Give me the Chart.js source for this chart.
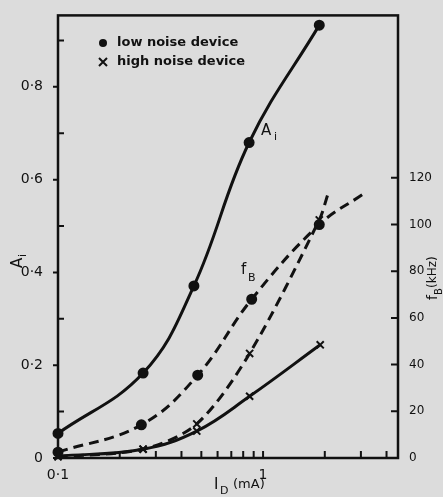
<!DOCTYPE html>
<html>
<head>
<meta charset="utf-8">
<script src="https://cdn.jsdelivr.net/npm/chart.js@4"></script>
<style>
  body { margin: 0; background: #dcdcdc; }
  canvas { display: block; }
</style>
</head>
<body>
<canvas id="noiseChart" width="443" height="497"></canvas>
<script>
// values
var lowX  = [0.1, 0.26, 0.46, 0.855, 1.88];
var lowA  = [0.053, 0.183, 0.371, 0.68, 0.933];
var lowFX = [0.1, 0.255, 0.48, 0.88, 1.88, 3.07];
var lowF  = [2.5, 14.2, 35.5, 68, 100, 113];
var highX  = [0.1, 0.26, 0.475, 0.86, 1.9];
var highA  = [0.004, 0.019, 0.058, 0.133, 0.244];
var highFX = [0.1, 0.26, 0.475, 0.86, 1.88, 2.07];
var highF  = [0.5, 3.8, 14.6, 44.8, 102, 113];

var aTicks = [0, 0.2, 0.4, 0.6, 0.8];
var aMinorTicks = [0.1, 0.3, 0.5, 0.7, 0.9];
var fTicks = [0, 20, 40, 60, 80, 100, 120];
var xLabelTicks = [0.1, 1];
var xMinorTicks = [0.2, 0.3, 0.4, 0.5, 0.6, 0.7, 0.8, 0.9, 1, 2, 3, 4];

function pts(xs, ys){
    var out = [];
    for(var i = 0; i < xs.length; i++){
        out.push({x: xs[i], y: ys[i]});
    }
    return out;
}
function fmt(v){
    if(v === 0) return '0';
    return String(v).replace('.', '\u00b7');
}

var ink = '#111';
var font = '"DejaVu Sans", sans-serif';

const paperPlugin = {
    id: 'paper',
    beforeDraw: function(chart){
        var c = chart.ctx;
        c.save();
        c.fillStyle = '#dcdcdc';
        c.fillRect(0, 0, chart.width, chart.height);
        c.restore();
    },
    afterDraw: function(chart){
        var c = chart.ctx;
        var a = chart.chartArea;
        var sx = chart.scales.x, sa = chart.scales.yA, sf = chart.scales.yF;
        c.save();
        c.strokeStyle = ink;
        c.fillStyle = ink;
        c.lineWidth = 2.5;
        c.strokeRect(a.left, a.top, a.right - a.left, a.bottom - a.top);
        c.lineWidth = 2;
        c.beginPath();
        aTicks.forEach(function(v){
            var y = sa.getPixelForValue(v);
            c.moveTo(a.left - 5, y); c.lineTo(a.left, y);
        });
        aMinorTicks.forEach(function(v){
            var y = sa.getPixelForValue(v);
            c.moveTo(a.left, y); c.lineTo(a.left + 6, y);
        });
        fTicks.forEach(function(v){
            if(v === 0) return;
            var y = sf.getPixelForValue(v);
            c.moveTo(a.right - 7, y); c.lineTo(a.right, y);
        });
        xMinorTicks.forEach(function(v){
            var x = sx.getPixelForValue(v);
            c.moveTo(x, a.bottom); c.lineTo(x, a.bottom - 7);
        });
        c.stroke();

        // legend
        c.beginPath();
        c.arc(103, 43, 4, 0, Math.PI * 2);
        c.fill();
        c.beginPath();
        c.moveTo(99, 58); c.lineTo(107, 66);
        c.moveTo(107, 58); c.lineTo(99, 66);
        c.stroke();
        c.font = 'bold 13px ' + font;
        c.textBaseline = 'middle';
        c.fillText('low noise device', 117, 43);
        c.fillText('high noise device', 117, 62);

        // curve labels
        c.font = '15px ' + font;
        c.fillText('A', 261, 131);
        c.font = '11px ' + font;
        c.fillText('i', 274, 137);
        c.font = '15px ' + font;
        c.fillText('f', 241, 270);
        c.font = '11px ' + font;
        c.fillText('B', 248, 278);

        // axis titles
        c.font = '15px ' + font;
        c.fillText('I', 214, 485);
        c.font = '11px ' + font;
        c.fillText('D', 220, 491);
        c.font = '13px ' + font;
        c.fillText('(mA)', 233, 485);

        c.save();
        c.translate(18, 262);
        c.rotate(-Math.PI / 2);
        c.font = '15px ' + font;
        c.fillText('A', -6, 0);
        c.font = '11px ' + font;
        c.fillText('i', 5, 5);
        c.restore();

        c.save();
        c.translate(433, 300);
        c.rotate(-Math.PI / 2);
        c.font = '14px ' + font;
        c.fillText('f', 0, 0);
        c.font = '10px ' + font;
        c.fillText('B', 5, 6);
        c.font = '12px ' + font;
        c.fillText('(kHz)', 12, 0);
        c.restore();

        c.restore();
    }
};

const config = {
    type: 'line',
    data: {
        datasets: [
            {
                label: 'A_i low noise',
                data: pts(lowX, lowA),
                yAxisID: 'yA',
                borderColor: ink, backgroundColor: ink,
                borderWidth: 3,
                pointStyle: 'circle', pointRadius: 4,
                tension: 0.4
            },
            {
                label: 'f_B low noise',
                data: pts(lowFX, lowF),
                yAxisID: 'yF',
                borderColor: ink, backgroundColor: ink,
                borderWidth: 3, borderDash: [10, 6],
                pointStyle: 'circle', pointRadius: [4, 4, 4, 4, 4, 0],
                tension: 0.4
            },
            {
                label: 'A_i high noise',
                data: pts(highX, highA),
                yAxisID: 'yA',
                borderColor: ink, backgroundColor: ink,
                borderWidth: 3,
                pointStyle: 'crossRot', pointRadius: 5, pointBorderWidth: 2,
                tension: 0.4
            },
            {
                label: 'f_B high noise',
                data: pts(highFX, highF),
                yAxisID: 'yF',
                borderColor: ink, backgroundColor: ink,
                borderWidth: 3, borderDash: [10, 6],
                pointStyle: 'crossRot', pointRadius: [5, 5, 5, 5, 5, 0], pointBorderWidth: 2,
                tension: 0.3
            }
        ]
    },
    options: {
        responsive: false,
        animation: false,
        clip: false,
        layout: { padding: { top: 5, left: 0, right: 0, bottom: 0 } },
        plugins: {
            legend: { display: false },
            tooltip: { enabled: false }
        },
        scales: {
            x: {
                type: 'logarithmic',
                min: 0.1, max: 4.55,
                grid: { display: false },
                border: { display: false },
                afterBuildTicks: function(s){ s.ticks = xLabelTicks.map(function(v){ return {value: v}; }); },
                afterFit: function(s){ s.height = 39; },
                ticks: {
                    color: ink, padding: 1,
                    font: { family: font, size: 14 },
                    maxRotation: 0, autoSkip: false,
                    callback: function(v){ return fmt(v); }
                }
            },
            yA: {
                position: 'left',
                min: 0, max: 0.954,
                grid: { display: false },
                border: { display: false },
                afterBuildTicks: function(s){ s.ticks = aTicks.map(function(v){ return {value: v}; }); },
                afterFit: function(s){ s.width = 58; },
                ticks: {
                    color: ink, padding: 7,
                    font: { family: font, size: 14 },
                    callback: function(v){ return fmt(v); }
                }
            },
            yF: {
                position: 'right',
                min: 0, max: 189.6,
                grid: { display: false },
                border: { display: false },
                afterBuildTicks: function(s){ s.ticks = fTicks.map(function(v){ return {value: v}; }); },
                afterFit: function(s){ s.width = 45; },
                ticks: {
                    color: ink, padding: 3,
                    font: { family: font, size: 12 },
                    callback: function(v){ return String(v); }
                }
            }
        }
    },
    plugins: [paperPlugin]
};

const myChart = new Chart(document.getElementById('noiseChart'), config);
</script>
</body>
</html>
